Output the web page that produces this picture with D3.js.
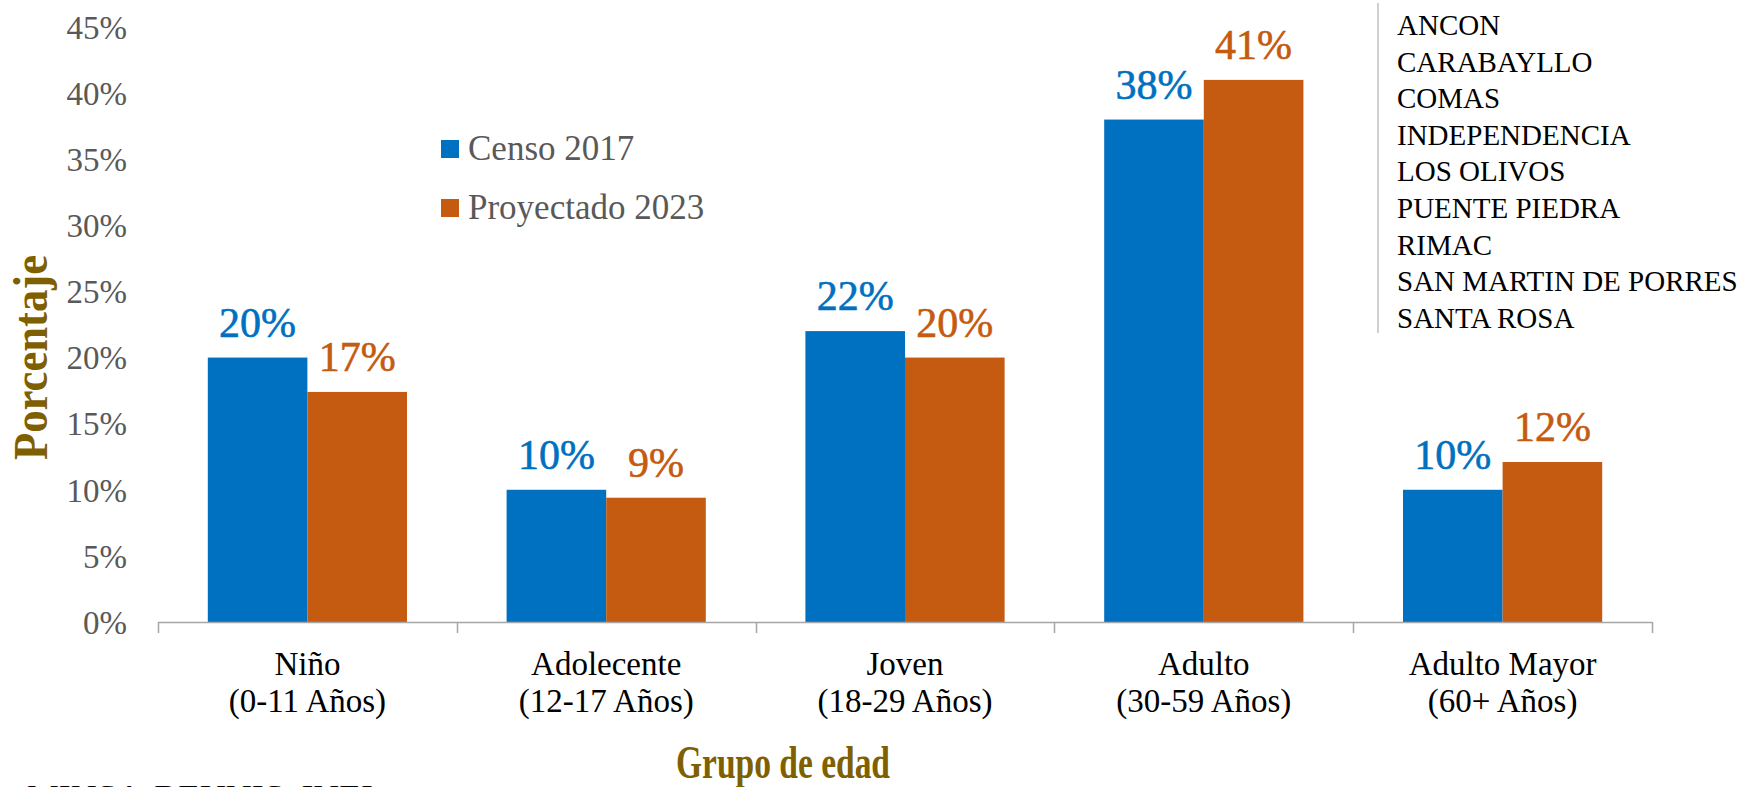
<!DOCTYPE html>
<html>
<head>
<meta charset="utf-8">
<script src="https://cdn.jsdelivr.net/npm/d3@7"></script>
<style>
html,body{margin:0;padding:0;background:#fff;}
svg{display:block;font-family:"Liberation Serif","DejaVu Serif",serif;}
</style>
</head>
<body>
<svg id="chart" width="1760" height="787"></svg>
<script>
const categories = ["Niño|(0-11 Años)", "Adolecente|(12-17 Años)", "Joven|(18-29 Años)", "Adulto|(30-59 Años)", "Adulto Mayor|(60+ Años)"];
const seriesNames = ["Censo 2017", "Proyectado 2023"];
const censo2017 = [0.200, 0.100, 0.220, 0.380, 0.100];
const proyectado2023 = [0.174, 0.094, 0.200, 0.410, 0.121];
const valueLabels2017 = ["20%", "10%", "22%", "38%", "10%"];
const valueLabels2023 = ["17%", "9%", "20%", "41%", "12%"];
const yTicks = [0, 0.05, 0.10, 0.15, 0.20, 0.25, 0.30, 0.35, 0.40, 0.45];
const districts = ["ANCON", "CARABAYLLO", "COMAS", "INDEPENDENCIA", "LOS OLIVOS", "PUENTE PIEDRA", "RIMAC", "SAN MARTIN DE PORRES", "SANTA ROSA"];
const colors = ["#0070C0", "#C55A11"];

const svg = d3.select("#chart");
const x0 = 158, x1 = 1652, yBase = 622, yTop = 27;

const x = d3.scaleBand().domain(categories).range([x0, x1]).paddingInner(0).paddingOuter(0);
const bw = x.bandwidth();
const xs = d3.scaleBand().domain(seriesNames).range([bw / 6, bw * 5 / 6]).padding(0);
const y = d3.scaleLinear().domain([0, 0.45]).range([yBase, yTop]);

const data = categories.map((c, i) => ({
  cat: c,
  vals: [
    {s: seriesNames[0], v: censo2017[i], lab: valueLabels2017[i], col: colors[0]},
    {s: seriesNames[1], v: proyectado2023[i], lab: valueLabels2023[i], col: colors[1]}
  ]
}));

// Y axis tick labels (no axis line)
const yAxis = d3.axisLeft(y).tickValues(yTicks).tickFormat(d3.format(".0%")).tickSize(0).tickPadding(0);
const ya = svg.append("g").attr("transform", "translate(127,0)").call(yAxis);
ya.select(".domain").remove();
ya.selectAll("text").attr("font-family", "Liberation Serif").attr("font-size", 33).attr("fill", "#595959").attr("dy", "0.34em");

// Bars
const groups = svg.append("g").selectAll("g").data(data).join("g")
  .attr("transform", d => `translate(${x(d.cat)},0)`);
groups.selectAll("rect").data(d => d.vals).join("rect")
  .attr("x", d => xs(d.s)).attr("width", xs.bandwidth())
  .attr("y", d => y(d.v)).attr("height", d => yBase - y(d.v))
  .attr("fill", d => d.col);
groups.selectAll("text").data(d => d.vals).join("text")
  .attr("x", d => xs(d.s) + xs.bandwidth() / 2)
  .attr("y", d => y(d.v) - 21)
  .attr("text-anchor", "middle")
  .attr("font-size", 42)
  .attr("fill", d => d.col)
  .attr("stroke", d => d.col).attr("stroke-width", 0.6)
  .text(d => d.lab);

// X axis line and boundary ticks
const axg = svg.append("g");
axg.append("line").attr("x1", x0).attr("x2", x1).attr("y1", yBase + 0.5).attr("y2", yBase + 0.5)
  .attr("stroke", "#a6a6a6").attr("stroke-width", 1.5);
const bounds = categories.map(c => x(c)).concat([x1]);
axg.selectAll("line.tk").data(bounds).join("line").attr("class", "tk")
  .attr("x1", d => Math.round(d) + 0.5).attr("x2", d => Math.round(d) + 0.5)
  .attr("y1", yBase).attr("y2", yBase + 11)
  .attr("stroke", "#a6a6a6").attr("stroke-width", 1.5);

// X labels
const xl = axg.selectAll("text.xl").data(categories).join("text").attr("class", "xl")
  .attr("x", d => x(d) + bw / 2).attr("y", 675)
  .attr("text-anchor", "middle").attr("font-size", 33).attr("fill", "#000");
xl.selectAll("tspan").data(d => d.split("|")).join("tspan")
  .attr("x", function() { return d3.select(this.parentNode).attr("x"); })
  .attr("dy", (d, i) => i === 0 ? 0 : 37)
  .text(d => d);

// Axis titles
svg.append("text").attr("x", 783).attr("y", 778).attr("text-anchor", "middle")
  .attr("font-size", 47).attr("font-weight", "bold").attr("fill", "#7F6000")
  .attr("textLength", 214).attr("lengthAdjust", "spacingAndGlyphs")
  .text("Grupo de edad");
svg.append("text").attr("transform", "translate(47,357.5) rotate(-90)").attr("text-anchor", "middle")
  .attr("font-size", 48).attr("font-weight", "bold").attr("fill", "#7F6000")
  .attr("textLength", 205).attr("lengthAdjust", "spacingAndGlyphs")
  .text("Porcentaje");

// Legend
const lg = svg.append("g").selectAll("g").data(seriesNames).join("g")
  .attr("transform", (d, i) => `translate(441,${140 + i * 59})`);
lg.append("rect").attr("width", 18).attr("height", 18).attr("fill", (d, i) => colors[i]);
lg.append("text").attr("x", 27).attr("y", 20).attr("font-size", 35).attr("fill", "#595959").text(d => d);

// District box
svg.append("line").attr("x1", 1378).attr("x2", 1378).attr("y1", 3).attr("y2", 333)
  .attr("stroke", "#d0d0d0").attr("stroke-width", 2);
svg.append("g").selectAll("text").data(districts).join("text")
  .attr("x", 1397).attr("y", (d, i) => 35 + i * 36.6)
  .attr("font-size", 29).attr("fill", "#000").text(d => d);

// Source (cut at the bottom, as in the reference)
svg.append("text").attr("x", 27).attr("y", 804).attr("font-size", 28).attr("fill", "#000")
  .attr("textLength", 346).attr("lengthAdjust", "spacingAndGlyphs")
  .text("MINSA-REUNIS, INEI");
</script>
</body>
</html>
